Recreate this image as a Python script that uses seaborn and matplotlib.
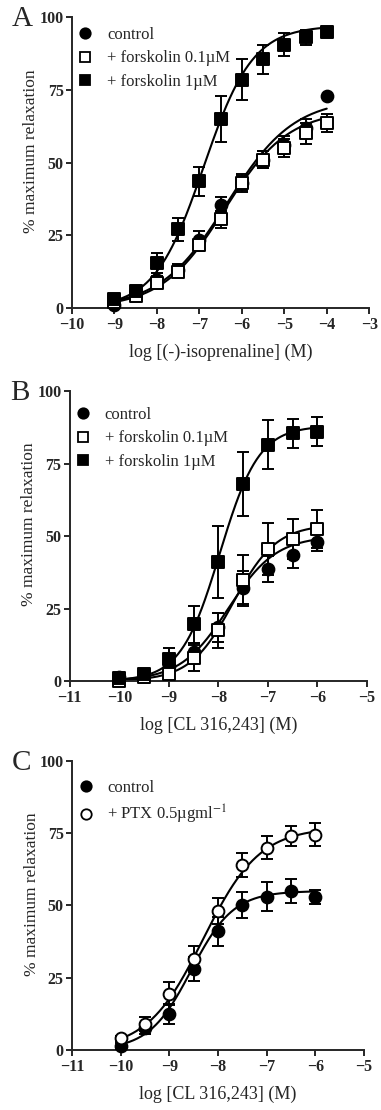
import numpy as np
import pandas as pd
import matplotlib
matplotlib.use('Agg')
import matplotlib.pyplot as plt
from matplotlib.lines import Line2D
import seaborn as sns

sns.set_style('ticks')
plt.rcParams['font.family'] = ['Liberation Serif', 'DejaVu Serif']
plt.rcParams['mathtext.fontset'] = 'stix'

# panel A: (-)-isoprenaline
a_x = [-9, -8.5, -8, -7.5, -7, -6.5, -6, -5.5, -5, -4.5, -4]
a_ctrl = [1, 5, 9.5, 13, 23.5, 35.5, 43, 51, 56, 62, 73]
a_ctrl_err = [1, 1.5, 1.5, 2, 3, 2.5, 2.5, 3, 3, 3, 0]
a_f01 = [2, 4, 8.5, 12.5, 21.5, 30.5, 43, 51, 55, 60, 63.5]
a_f01_err = [1, 1.5, 1.5, 2, 2, 3, 3, 3, 3, 3.5, 3]
a_f1 = [3, 6, 15.5, 27, 43.5, 65, 78.5, 85.5, 90.5, 93, 95]
a_f1_err = [1, 1.5, 3.5, 4, 5, 8, 7, 5, 4, 2.5, 1]

# panel B: CL 316,243 with forskolin
b_x = [-10, -9.5, -9, -8.5, -8, -7.5, -7, -6.5, -6]
b_ctrl = [1.5, 2, 5, 10, 18.5, 32, 38.5, 43.5, 48]
b_ctrl_err = [1, 1, 2.5, 3, 5, 6, 4.5, 4.5, 3]
b_f01 = [0, 1.5, 2.5, 8, 17.5, 35, 45.5, 49, 52.5]
b_f01_err = [1, 1, 2, 4.5, 6, 8.5, 9, 7, 6.5]
b_f1 = [1, 2.5, 7.5, 19.5, 41, 68, 81.5, 85.5, 86]
b_f1_err = [1, 1, 4, 6.5, 12.5, 11, 8.5, 5, 5]

# panel C: CL 316,243 with PTX
c_x = [-10, -9.5, -9, -8.5, -8, -7.5, -7, -6.5, -6]
c_ctrl = [1.5, 7.5, 12.5, 28, 41, 50, 53, 55, 53]
c_ctrl_err = [1, 2, 3.5, 4, 5, 4.5, 5, 4, 2.5]
c_ptx = [4, 9, 19.5, 31.5, 48, 64, 70, 74, 74.5]
c_ptx_err = [1, 2.5, 4, 4.5, 4.5, 4, 4, 3.5, 4]

# fitted sigmoid parameters (top, logEC50, slope)
a_fits = {'ctrl': (72, -6.35, 0.55), 'f01': (68, -6.4, 0.58), 'f1': (97, -6.9, 0.75)}
b_fits = {'ctrl': (50, -7.8, 0.9), 'f01': (54, -7.7, 1.0), 'f1': (88, -7.97, 1.1)}
c_fits = {'ctrl': (55, -8.55, 1.0), 'ptx': (77, -8.3, 0.75)}

styles = {
    'ctrl': dict(marker='o', face='black', size=8.5, label='control'),
    'f01': dict(marker='s', face='white', size=9, label='+ forskolin 0.1\u00b5M'),
    'f1': dict(marker='s', face='black', size=9, label='+ forskolin 1\u00b5M'),
    'ptx': dict(marker='o', face='white', size=8.5, label='+ PTX 0.5\u00b5gml$^{-1}$'),
}

fig = plt.figure(figsize=(3.81, 11.10), dpi=100)


def curve(ax, x, fit):
    top, ec50, slope = fit
    xs = np.linspace(min(x), max(x), 200)
    ys = top / (1 + 10 ** (slope * (ec50 - xs)))
    sns.lineplot(x=xs, y=ys, ax=ax, color='black', lw=1.5, zorder=2)


def panel(rect, letter, x, series, fits, xlim, xlabel, legend_y):
    ax = fig.add_axes(rect)
    for key, (y, err) in series.items():
        st = styles[key]
        curve(ax, x, fits[key])
        ax.errorbar(x, y, yerr=err, fmt='none', ecolor='black', elinewidth=1.4,
                    capsize=4, capthick=1.4, zorder=3, clip_on=False)
        df = pd.DataFrame({'x': x, 'y': y})
        sns.scatterplot(data=df, x='x', y='y', ax=ax, marker=st['marker'],
                        color=st['face'], edgecolor='black', linewidth=1.4,
                        s=st['size'] ** 2, zorder=4, clip_on=False)
    ax.set_xlim(*xlim)
    ax.set_ylim(0, 100)
    ax.set_xticks(range(xlim[0], xlim[1] + 1))
    ax.set_yticks([0, 25, 50, 75, 100])
    ax.set_yticklabels(['0', '25', '50', '75', '100'])
    ax.tick_params(labelsize=11.5, width=1.4, length=4)
    ax.tick_params(axis='x', pad=2.5)
    ax.tick_params(axis='y', pad=2)
    for lab in ax.get_xticklabels() + ax.get_yticklabels():
        lab.set_fontweight('bold')
    ax.set_xlabel(xlabel, fontsize=13, labelpad=8)
    ax.set_ylabel('% maximum relaxation', fontsize=12.5, labelpad=4)
    ax.yaxis.set_label_coords(-0.11, 0.54)
    sns.despine(ax=ax)
    for sp in ['left', 'bottom']:
        ax.spines[sp].set_linewidth(1.4)
    handles = [Line2D([], [], marker=styles[k]['marker'], color='black',
                      markerfacecolor=styles[k]['face'], markersize=7.5,
                      markeredgewidth=1.3, linestyle='none',
                      label=styles[k]['label']) for k in series]
    ax.legend(handles=handles, loc='upper left', bbox_to_anchor=(-0.045, legend_y),
              frameon=False, fontsize=12, handletextpad=0.3,
              labelspacing=0.45, borderaxespad=0.2)
    fig.text(rect[0] - 0.157, rect[1] + rect[3] - 0.002, letter, fontsize=21,
             ha='left', va='center')
    return ax


panel([0.189, 0.7225, 0.78, 0.2622], 'A', a_x,
      {'ctrl': (a_ctrl, a_ctrl_err), 'f01': (a_f01, a_f01_err), 'f1': (a_f1, a_f1_err)},
      a_fits, (-10, -3), 'log [(-)-isoprenaline] (M)', 1.0)
panel([0.183, 0.3865, 0.78, 0.2612], 'B', b_x,
      {'ctrl': (b_ctrl, b_ctrl_err), 'f01': (b_f01, b_f01_err), 'f1': (b_f1, b_f1_err)},
      b_fits, (-11, -5), 'log [CL 316,243] (M)', 0.98)
panel([0.189, 0.0541, 0.766, 0.2603], 'C', c_x,
      {'ctrl': (c_ctrl, c_ctrl_err), 'ptx': (c_ptx, c_ptx_err)},
      c_fits, (-11, -5), 'log [CL 316,243] (M)', 0.97)

fig.savefig('out.png', dpi=100)
